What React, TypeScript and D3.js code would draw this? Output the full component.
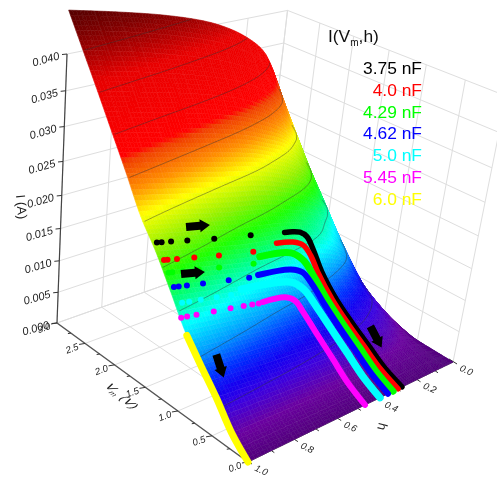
import React from "react";
import * as d3 from "d3";

// ---- Data ----
const vGrid = [0, 0.25, 0.5, 0.75, 1, 1.25, 1.5, 1.75, 2, 2.25, 2.5, 2.75, 3];
const hGrid = [0, 0.05, 0.1, 0.2, 0.3, 0.4, 0.6, 0.8, 1];
const iH000 = [0, 0.0001, 0.0002, 0.0008, 0.0017, 0.003, 0.0056, 0.0088, 0.0123, 0.0157, 0.0196, 0.0236, 0.028];
const iH005 = [0, 0.0006, 0.0013, 0.0024, 0.0038, 0.0056, 0.0085, 0.0118, 0.0155, 0.0191, 0.0231, 0.0272, 0.0316];
const iH010 = [0, 0.0009, 0.002, 0.0034, 0.0051, 0.0074, 0.0107, 0.0138, 0.0176, 0.0213, 0.0256, 0.0298, 0.0343];
const iH020 = [0, 0.0012, 0.0029, 0.0046, 0.0066, 0.0093, 0.0134, 0.016, 0.0201, 0.0242, 0.0284, 0.0328, 0.0372];
const iH030 = [0, 0.0014, 0.0034, 0.0054, 0.0076, 0.0105, 0.0148, 0.0174, 0.0217, 0.0258, 0.0303, 0.0347, 0.0392];
const iH040 = [0, 0.0016, 0.0038, 0.006, 0.0084, 0.0116, 0.0156, 0.0186, 0.023, 0.0272, 0.0317, 0.0361, 0.0407];
const iH060 = [0, 0.0018, 0.0045, 0.0069, 0.0095, 0.013, 0.0168, 0.0202, 0.0248, 0.0292, 0.0338, 0.0382, 0.0428];
const iH080 = [0, 0.0021, 0.0051, 0.0078, 0.0108, 0.0146, 0.0185, 0.022, 0.0266, 0.031, 0.0355, 0.04, 0.0444];
const iH100 = [0, 0.0024, 0.0058, 0.0088, 0.012, 0.0162, 0.0203, 0.0238, 0.0284, 0.0328, 0.0372, 0.0415, 0.0458];
const surfaceRows = [iH000, iH005, iH010, iH020, iH030, iH040, iH060, iH080, iH100];

const colorDomain = [0, 0.002, 0.0045, 0.006, 0.0075, 0.0098, 0.0125, 0.0152, 0.0178, 0.0205, 0.0238, 0.0265, 0.0295, 0.0302, 0.038, 0.0405, 0.043, 0.046];
const colorRange = ["#50007a", "#6a009f", "#3a00e0", "#1400f0", "#0030ff", "#00a0ff", "#00ffff", "#00ff80", "#20ff00", "#90f000", "#ffff00", "#ff9000", "#f04000", "#ff0000", "#e80000", "#b00000", "#800000", "#500000"];
const contourLevels = [0.0048, 0.0094, 0.014, 0.0186, 0.0232, 0.0279, 0.0325, 0.037, 0.0415];

const iTicks = [0, 0.005, 0.01, 0.015, 0.02, 0.025, 0.03, 0.035, 0.04];
const vTicks = [0, 0.5, 1, 1.5, 2, 2.5, 3];
const vMinor = [0.25, 0.75, 1.25, 1.75, 2.25, 2.75];
const hTicks = [0, 0.2, 0.4, 0.6, 0.8, 1];
const hMinor = [0.1, 0.3, 0.5, 0.7, 0.9];

const legendLabels = ["3.75 nF", "4.0 nF", "4.29 nF", "4.62 nF", "5.0 nF", "5.45 nF", "6.0 nF"];
const seriesColors = ["#000000", "#ff0000", "#00ff00", "#0000ff", "#00ffff", "#ff00ff", "#ffff00"];

// trajectories on the surface, [V, h]
const lineBlack = [[0, 0.277], [0.25, 0.28], [0.5, 0.282], [0.75, 0.285], [1, 0.287], [1.25, 0.288], [1.4, 0.292], [1.49, 0.3], [1.53, 0.325], [1.54, 0.36], [1.54, 0.4]];
const lineRed = [[0, 0.297], [0.25, 0.3], [0.5, 0.303], [0.75, 0.306], [1, 0.308], [1.25, 0.31], [1.36, 0.315], [1.43, 0.335], [1.46, 0.38], [1.47, 0.46]];
const lineGreen = [[0, 0.323], [0.25, 0.325], [0.5, 0.327], [0.75, 0.33], [1, 0.333], [1.2, 0.34], [1.33, 0.36], [1.39, 0.41], [1.4, 0.56]];
const lineBlue = [[0, 0.349], [0.25, 0.35], [0.5, 0.353], [0.75, 0.356], [1, 0.36], [1.15, 0.368], [1.25, 0.39], [1.28, 0.44], [1.28, 0.6]];
const lineCyan = [[0, 0.39], [0.25, 0.392], [0.5, 0.394], [0.75, 0.397], [0.95, 0.402], [1.12, 0.42], [1.19, 0.465], [1.2, 0.7]];
const lineMagenta = [[0, 0.465], [0.25, 0.467], [0.5, 0.47], [0.75, 0.472], [0.95, 0.475], [1.05, 0.485], [1.09, 0.52], [1.09, 0.63]];
const lineYellow = [[0, 1], [0.25, 1], [0.5, 1], [0.75, 1], [0.97, 1]];
const seriesLines = [lineBlack, lineRed, lineGreen, lineBlue, lineCyan, lineMagenta, lineYellow];
const lineWidths = [5.5, 5.5, 7, 6, 7.5, 6, 7];

const dotV = [1.56, 1.44, 1.36, 1.27, 1.17, 1.085];
const dotsBlack = [0.98, 0.96, 0.92, 0.85, 0.73, 0.56];
const dotsRed = [0.98, 0.965, 0.925, 0.85, 0.74, 0.58];
const dotsGreen = [0.98, 0.965, 0.92, 0.85, 0.76, 0.6];
const dotsBlue = [0.98, 0.96, 0.925, 0.855, 0.74, 0.645];
const dotsCyan = [0.97, 0.94, 0.89, 0.82, 0.755];
const dotsMagenta = [0.995, 0.97, 0.93, 0.855, 0.78, 0.72, 0.68, 0.65];
const seriesDots = [dotsBlack, dotsRed, dotsGreen, dotsBlue, dotsCyan, dotsMagenta];

// ---- Scales and projection ----
const aScale = d3.scaleLinear().domain([0, 3]).range([0, 1]);
const bScale = d3.scaleLinear().domain([1, 0]).range([0, 1]);
const cScale = d3.scaleLinear().domain([0, 0.04]).range([0, 1]);
const color = d3.scaleLinear<string>().domain(colorDomain).range(colorRange).clamp(true);

function project(V: number, h: number, I: number): [number, number] {
  const a = aScale(V), b = bScale(h), c = cScale(I);
  const w = 1 + 0.1595 * a + 0.1547 * b - 0.1137 * c;
  return [(248 - 181.9 * a + 275.1 * b + 3.98 * c) / w, (462 - 87.5 * a - 44 * b - 318 * c) / w];
}

// monotone cubic evaluation of a table column
function monotone(xs: number[], ys: number[], x: number): number {
  const n = xs.length;
  if (x <= xs[0]) return ys[0];
  if (x >= xs[n - 1]) return ys[n - 1];
  const k = Math.max(0, d3.bisectRight(xs, x) - 1);
  const dl = (i: number) => (ys[i + 1] - ys[i]) / (xs[i + 1] - xs[i]);
  const slope = (i: number) => {
    if (i === 0) return dl(0);
    if (i === n - 1) return dl(n - 2);
    const a = dl(i - 1), b = dl(i);
    if (a * b <= 0) return 0;
    const h0 = xs[i] - xs[i - 1], h1 = xs[i + 1] - xs[i];
    return (3 * (h0 + h1)) / ((2 * h1 + h0) / a + (h1 + 2 * h0) / b);
  };
  const h = xs[k + 1] - xs[k], t = (x - xs[k]) / h;
  const t2 = t * t, t3 = t2 * t;
  return (2 * t3 - 3 * t2 + 1) * ys[k] + (t3 - 2 * t2 + t) * h * slope(k) + (-2 * t3 + 3 * t2) * ys[k + 1] + (t3 - t2) * h * slope(k + 1);
}
function surface(V: number, h: number): number {
  const col = surfaceRows.map((row) => monotone(vGrid, row, V));
  return monotone(hGrid, col, h);
}
const pt = (V: number, h: number) => project(V, h, surface(V, h));
const polyPath = (pts: [number, number][]) =>
  "M" + pts.map((p) => p[0].toFixed(2) + "," + p[1].toFixed(2)).join("L") + "Z";

const NV = 96, NH = 90;
const hStep = (j: number) => Math.pow(j / NH, 1.35);

function buildCells() {
  const cells: { d: string; c: string }[] = [];
  const grid: { p: [number, number]; }[][] = [];
  for (let i = 0; i <= NV; i++) {
    const row: { p: [number, number] }[] = [];
    for (let j = 0; j <= NH; j++) row.push({ p: pt((3 * i) / NV, hStep(j)) });
    grid.push(row);
  }
  for (let i = NV - 1; i >= 0; i--) {
    const v0 = (3 * i) / NV, v1 = (3 * (i + 1)) / NV;
    for (let j = 0; j < NH; j++) {
      const h0 = hStep(j), h1 = hStep(j + 1);
      const val = surface((v0 + v1) / 2, (h0 + h1) / 2);
      cells.push({ d: polyPath([grid[i][j].p, grid[i + 1][j].p, grid[i + 1][j + 1].p, grid[i][j + 1].p]), c: color(val) as string });
    }
  }
  return cells;
}

function buildContours() {
  const n = 130, m = 130;
  const values: number[] = new Array(n * m);
  for (let j = 0; j < m; j++) for (let i = 0; i < n; i++) values[j * n + i] = surface((3 * i) / (n - 1), j / (m - 1));
  const gen = d3.contours().size([n, m]).smooth(true).thresholds(contourLevels);
  let d = "";
  for (const g of gen(values)) {
    for (const poly of g.coordinates) {
      for (const ring of poly) {
        for (let k = 1; k < ring.length; k++) {
          const p = ring[k - 1], q = ring[k];
          const edge = (u: number[]) => u[0] <= 0.6 || u[0] >= n - 0.6 || u[1] <= 0.6 || u[1] >= m - 0.6;
          if (edge(p) || edge(q)) continue;
          const P = pt((3 * (p[0] - 0.5)) / (n - 1), (p[1] - 0.5) / (m - 1));
          const Q = pt((3 * (q[0] - 0.5)) / (n - 1), (q[1] - 0.5) / (m - 1));
          d += `M${P[0].toFixed(1)},${P[1].toFixed(1)}L${Q[0].toFixed(1)},${Q[1].toFixed(1)}`;
        }
      }
    }
  }
  return d;
}

function buildMesh() {
  let d = "";
  for (const V of d3.range(0, 3.01, 0.125)) {
    const pts = d3.range(0, 1.001, 0.02).map((h) => pt(V, h));
    d += "M" + pts.map((p) => p.join(",")).join("L");
  }
  for (const h of d3.range(0.05, 1.001, 0.05)) {
    const pts = d3.range(0, 3.01, 0.1).map((V) => pt(V, h));
    d += "M" + pts.map((p) => p.join(",")).join("L");
  }
  return d;
}

function seg(p: [number, number], q: [number, number]) {
  return `M${p[0]},${p[1]}L${q[0]},${q[1]}`;
}

function buildGrid() {
  let d = "";
  const top = 0.04;
  for (const I of iTicks) {
    d += seg(project(3, 1, I), project(3, 0, I));
    d += seg(project(3, 0, I), project(0, 0, I));
  }
  for (const h of hTicks) {
    d += seg(project(3, h, 0), project(3, h, top));
    d += seg(project(3, h, 0), project(0, h, 0));
  }
  for (const V of vTicks) {
    d += seg(project(V, 0, 0), project(V, 0, top));
    d += seg(project(V, 0, 0), project(V, 1, 0));
  }
  return d;
}

const curve = d3.line<number[]>().x((d) => d[0]).y((d) => d[1]).curve(d3.curveCatmullRom.alpha(0.5));

function Arrow({ x, y, angle, len = 24 }: { x: number; y: number; angle: number; len?: number }) {
  const l = len / 2;
  const pts: [number, number][] = [
    [-l, -4], [l - 10, -4], [l - 10, -6.5], [l, 0], [l - 10, 6.5], [l - 10, 4], [-l, 4],
  ];
  return <path d={polyPath(pts)} fill="#000" transform={`translate(${x},${y}) rotate(${angle})`} />;
}

const tickFont = "'Liberation Sans', Arial, sans-serif";

export default function App() {
  const cells = buildCells();
  const A = project(0, 1, 0), B = project(3, 1, 0), C = project(0, 0, 0), D = project(3, 1, 0.04);
  return (
    <svg width={497} height={477} style={{ position: "fixed", left: 0, top: 0, display: "block", background: "#fff" }} fontFamily={tickFont}>
      <defs>
        <filter id="soft" x="0" y="0" width="100%" height="100%" filterUnits="userSpaceOnUse" primitiveUnits="userSpaceOnUse">
          <feGaussianBlur stdDeviation={0.45} />
        </filter>
      </defs>
      <g filter="url(#soft)">
        <rect x={0} y={0} width={497} height={477} fill="#fff" />
        <path d={buildGrid()} fill="none" stroke="#dedede" strokeWidth={1} />
        {/* axes */}
        <path d={seg(B, D)} stroke="#444" strokeWidth={1.2} />
        <path d={seg(A, B)} stroke="#555" strokeWidth={1.4} />
        <path d={seg(A, C)} stroke="#555" strokeWidth={1} />
        {iTicks.map((t) => {
          const p = project(3, 1, t);
          return (
            <g key={t}>
              <path d={`M${p[0]},${p[1]}l-5,0.5`} stroke="#333" strokeWidth={1} />
              <text transform={`translate(${p[0] - 7},${p[1] + 5}) rotate(-16)`} textAnchor="end" fontSize={11} fontStyle="italic" fill="#222">
                {t.toFixed(3)}
              </text>
            </g>
          );
        })}
        {vTicks.map((t) => {
          const p = project(t, 1, 0);
          return (
            <g key={t}>
              <path d={`M${p[0]},${p[1]}l-6,1`} stroke="#333" strokeWidth={1} />
              <text transform={`translate(${p[0] - 12},${p[1] + 8}) rotate(-20)`} textAnchor="middle" fontSize={9.5} fontStyle="italic" fill="#222">
                {t.toFixed(1)}
              </text>
            </g>
          );
        })}
        {vMinor.map((t) => {
          const p = project(t, 1, 0);
          return <path key={t} d={`M${p[0]},${p[1]}l-3,0.5`} stroke="#333" strokeWidth={1} />;
        })}
        {hTicks.map((t) => {
          const p = project(0, t, 0);
          return (
            <g key={t}>
              <path d={`M${p[0] - 4},${p[1] - 3}l8,5`} stroke="#333" strokeWidth={1} />
              <text transform={`translate(${p[0] + 12},${p[1] + 11}) rotate(25)`} textAnchor="middle" fontSize={9.5} fontStyle="italic" fill="#222">
                {t.toFixed(1)}
              </text>
            </g>
          );
        })}
        {hMinor.map((t) => {
          const p = project(0, t, 0);
          return <path key={t} d={`M${p[0]},${p[1]}l3,2`} stroke="#333" strokeWidth={1} />;
        })}
        <text transform="translate(16,195) rotate(85)" fontSize={13} fill="#222">I (A)</text>
        <text transform="translate(104,386) matrix(0.77,0.64,-0.9,0.3,0,0)" fontSize={13} fill="#222">
          V<tspan fontSize={8} dy={3}>m</tspan><tspan dy={-3}> (V)</tspan>
        </text>
        <text transform="translate(379,422) rotate(105)" fontSize={13} fill="#222">h</text>

        {/* surface */}
        <g>
          {cells.map((c, i) => (
            <path key={i} d={c.d} fill={c.c} stroke={c.c} strokeWidth={0.6} />
          ))}
        </g>
        <path d={buildMesh()} fill="none" stroke="#fff" strokeOpacity={0.07} strokeWidth={0.6} />
        <path d={buildContours()} fill="none" stroke="#333" strokeOpacity={0.65} strokeWidth={0.7} />

        {/* trajectories */}
        {seriesLines.map((line, k) => (
          <path key={k} d={curve(line.map((d) => pt(d[0], d[1])))!} fill="none" stroke={seriesColors[k]} strokeWidth={lineWidths[k]} strokeLinecap="round" />
        ))}
        {seriesDots.map((hs, k) =>
          hs.map((h, i) => {
            const p = pt(dotV[k], h);
            return <circle key={`${k}-${i}`} cx={p[0]} cy={p[1]} r={3} fill={seriesColors[k]} />;
          })
        )}

        <Arrow x={198} y={226} angle={-5} />
        <Arrow x={193} y={273} angle={-5} />
        <Arrow x={220} y={366} angle={72} />
        <Arrow x={376} y={337} angle={62} />

        {/* legend */}
        <text x={328} y={42} fontSize={17.4} fill="#111">
          I(V<tspan fontSize={10} dy={4}>m</tspan><tspan dy={-4}>,h)</tspan>
        </text>
        {legendLabels.map((l, i) => (
          <text key={l} x={422} y={74 + i * 21.8} textAnchor="end" fontSize={17.4} fill={seriesColors[i]}>{l}</text>
        ))}
      </g>
    </svg>
  );
}
